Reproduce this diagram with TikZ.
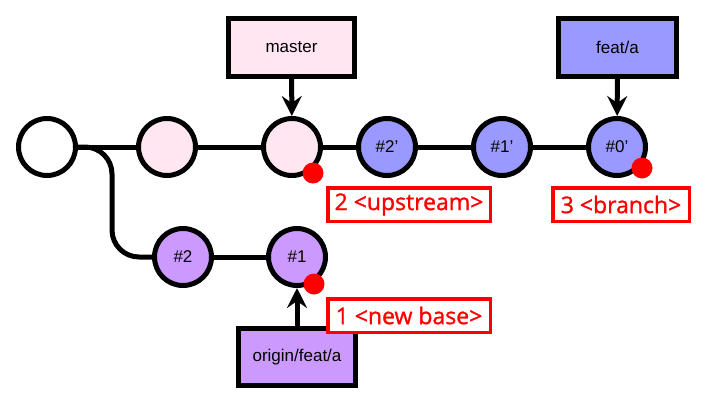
\documentclass[tikz,border=0pt]{standalone}
\usepackage{fontspec}
\setmainfont{Liberation Sans}
\newfontfamily\redfont[FakeBold=1.2]{Open Sans}
\usetikzlibrary{arrows.meta}
\definecolor{pinkfill}{RGB}{255,230,240}
\definecolor{bluefill}{RGB}{153,153,255}
\definecolor{purplefill}{RGB}{204,153,255}
\definecolor{myred}{RGB}{255,0,0}
\tikzset{
  commit/.style={circle, draw=black, line width=5pt, minimum size=57pt, inner sep=0pt, font=\fontsize{17}{20}\selectfont},
  refbox/.style={rectangle, draw=black, line width=5pt, minimum height=58pt, inner sep=0pt, font=\fontsize{17}{20}\selectfont},
  redlabel/.style={rectangle, draw=myred, line width=3.5pt, fill=white, minimum height=33.5pt, inner sep=0pt, text=myred, font=\redfont\fontsize{23}{27}\selectfont},
  reddot/.style={circle, fill=myred, minimum size=21pt, inner sep=0pt},
  edge/.style={line width=5pt},
  ptr/.style={line width=5pt, -{Stealth[length=20pt,width=20pt,inset=7pt]}},
}
\begin{document}
\begin{tikzpicture}[x=1pt,y=-1pt]
\useasboundingbox (0,0) rectangle (710,405);
% top row
\node[commit, fill=white] (c1) at (47,147) {};
\node[commit, fill=pinkfill] (c2) at (167,147) {};
\node[commit, fill=pinkfill] (c3) at (292,147) {};
\node[commit, fill=bluefill] (b2) at (387,147) {\#2'};
\node[commit, fill=bluefill] (b1) at (502,147) {\#1'};
\node[commit, fill=bluefill] (b0) at (617,147) {\#0'};
% bottom row
\node[commit, fill=purplefill] (p2) at (183,257) {\#2};
\node[commit, fill=purplefill] (p1) at (297,257) {\#1};
% ref boxes
\node[refbox, fill=pinkfill, minimum width=126pt] (master) at (291.5,47.5) {master};
\node[refbox, fill=bluefill, minimum width=118pt] (feat) at (617.5,47.5) {feat/a};
\node[refbox, fill=purplefill, minimum width=117pt, minimum height=57pt] (origin) at (297,357) {origin/feat/a};
% edges
\draw[edge] (c1) -- (c2);
\draw[edge] (c2) -- (c3);
\draw[edge] (c3) -- (b2);
\draw[edge] (b2) -- (b1);
\draw[edge] (b1) -- (b0);
\draw[edge] (p2) -- (p1);
\coordinate (k1) at (112,147);
\coordinate (k2) at (112,257);
\draw[edge, rounded corners=27pt] (c1.east) -- (k1) -- (k2) -- (p2.west);
% pointers
\draw[ptr] (master) -- (c3);
\draw[ptr] (feat) -- (b0);
\draw[ptr] (origin) -- (p1);
% red dots
\node[reddot] (d3) at (313,173) {};
\node[reddot] (d0) at (642,168) {};
\node[reddot] (d1) at (314,284) {};
% red labels
\node[redlabel, minimum width=162.5pt] (l2) at (409,204.5) {2 <upstream>};
\node[redlabel, minimum width=162.5pt] (l1) at (409,315.5) {1 <new base>};
\node[redlabel, minimum width=136.5pt] (l3) at (621,204.5) {3 <branch>};
\end{tikzpicture}
\end{document}
